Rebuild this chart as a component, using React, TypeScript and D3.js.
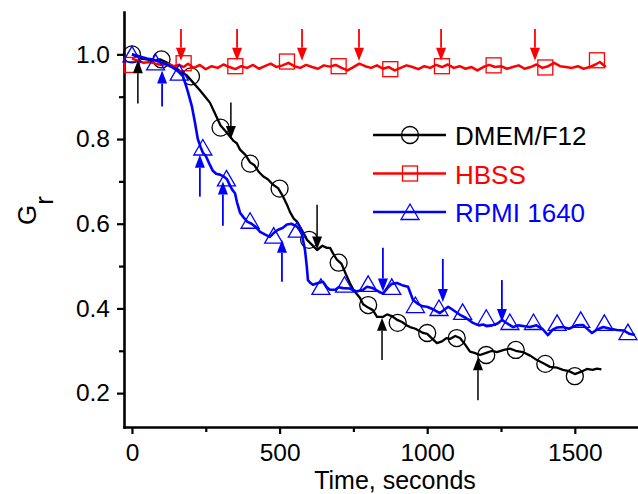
import React, { useEffect, useRef } from "react";
import * as d3 from "d3";

// ---- data (time in s, G_r) ----
const dmemLine: [number, number][] = [
  [0, 1.0], [15, 0.995], [30, 0.99], [50, 0.988], [70, 0.985], [95, 0.988],
  [115, 0.982], [139, 0.972], [160, 0.962], [186, 0.95], [205, 0.935], [230, 0.915],
  [250, 0.898], [264, 0.886], [280, 0.862], [300, 0.832], [315, 0.82], [332, 0.806],
  [345, 0.795], [355, 0.79], [366, 0.775], [385, 0.762], [400, 0.745], [415, 0.738],
  [430, 0.722], [444, 0.712], [460, 0.705], [478, 0.692], [495, 0.684], [512, 0.664],
  [525, 0.645], [535, 0.628], [548, 0.612], [559, 0.605], [575, 0.585], [593, 0.562],
  [610, 0.55], [627, 0.538], [645, 0.548], [660, 0.543], [671, 0.543], [685, 0.525],
  [694, 0.515], [710, 0.505], [725, 0.48], [738, 0.46], [750, 0.444], [760, 0.435],
  [772, 0.425], [783, 0.41], [800, 0.402], [816, 0.396], [830, 0.38], [850, 0.38],
  [864, 0.386], [880, 0.382], [898, 0.373], [915, 0.368], [930, 0.36], [942, 0.356],
  [960, 0.352], [986, 0.342], [1000, 0.34], [1015, 0.33], [1033, 0.318], [1050, 0.322],
  [1065, 0.33], [1077, 0.328], [1095, 0.335], [1111, 0.33], [1125, 0.318], [1145, 0.298],
  [1160, 0.295], [1179, 0.29], [1200, 0.295], [1220, 0.3], [1236, 0.297], [1260, 0.302],
  [1280, 0.305], [1300, 0.3], [1324, 0.297], [1350, 0.288], [1372, 0.278], [1395, 0.27],
  [1416, 0.262], [1440, 0.26], [1460, 0.255], [1480, 0.252], [1500, 0.245], [1520, 0.25],
  [1541, 0.257], [1560, 0.255], [1575, 0.258], [1590, 0.256],
];

const hbssLine: [number, number][] = [
  [0, 0.99], [20, 0.985], [40, 0.98], [60, 0.982], [80, 0.978], [100, 0.975],
  [120, 0.978], [140, 0.972], [160, 0.975], [175, 0.97], [190, 0.978], [210, 0.968],
  [230, 0.975], [250, 0.965], [270, 0.972], [290, 0.968], [310, 0.976], [330, 0.97],
  [350, 0.965], [370, 0.972], [390, 0.968], [410, 0.975], [430, 0.966], [450, 0.972],
  [470, 0.978], [490, 0.97], [510, 0.974], [530, 0.98], [550, 0.972], [570, 0.968],
  [590, 0.975], [610, 0.97], [630, 0.966], [650, 0.974], [670, 0.971], [690, 0.975],
  [710, 0.968], [730, 0.962], [750, 0.97], [770, 0.978], [790, 0.972], [810, 0.968],
  [830, 0.974], [850, 0.966], [870, 0.97], [890, 0.962], [910, 0.968], [930, 0.974],
  [950, 0.97], [970, 0.965], [990, 0.972], [1010, 0.968], [1030, 0.975], [1050, 0.97],
  [1070, 0.976], [1090, 0.968], [1110, 0.972], [1130, 0.966], [1150, 0.97], [1170, 0.962],
  [1190, 0.97], [1210, 0.975], [1230, 0.97], [1250, 0.972], [1270, 0.966], [1290, 0.97],
  [1310, 0.974], [1330, 0.966], [1350, 0.97], [1370, 0.976], [1390, 0.968], [1410, 0.972],
  [1430, 0.98], [1450, 0.972], [1470, 0.97], [1490, 0.968], [1510, 0.972], [1530, 0.966],
  [1550, 0.97], [1570, 0.976], [1585, 0.982], [1605, 0.97],
];

const rpmiLine: [number, number][] = [
  [0, 1.0], [27, 0.995], [50, 0.99], [71, 0.988], [95, 0.982], [118, 0.976],
  [140, 0.968], [156, 0.96], [173, 0.948], [188, 0.915], [203, 0.877], [213, 0.84],
  [223, 0.8], [232, 0.782], [240, 0.768], [250, 0.76], [262, 0.742], [274, 0.725],
  [285, 0.718], [298, 0.716], [310, 0.712], [322, 0.705], [332, 0.69], [340, 0.68],
  [349, 0.672], [356, 0.65], [366, 0.626], [378, 0.615], [390, 0.605], [405, 0.6],
  [420, 0.592], [434, 0.581], [450, 0.575], [467, 0.569], [480, 0.578], [495, 0.586],
  [510, 0.59], [525, 0.598], [540, 0.6], [559, 0.593], [568, 0.585], [576, 0.574],
  [586, 0.538], [592, 0.5], [596, 0.467], [605, 0.46], [613, 0.456], [630, 0.46],
  [647, 0.463], [660, 0.45], [671, 0.444], [688, 0.444], [700, 0.45], [715, 0.448],
  [738, 0.447], [760, 0.44], [783, 0.444], [796, 0.451], [815, 0.448], [835, 0.44],
  [850, 0.435], [865, 0.448], [880, 0.458], [897, 0.46], [915, 0.455], [935, 0.451],
  [952, 0.42], [970, 0.41], [985, 0.405], [999, 0.404], [1020, 0.398], [1043, 0.389],
  [1060, 0.398], [1071, 0.404], [1090, 0.395], [1111, 0.385], [1130, 0.378], [1155, 0.366],
  [1175, 0.36], [1190, 0.362], [1201, 0.358], [1220, 0.36], [1240, 0.365], [1253, 0.373],
  [1270, 0.365], [1291, 0.356], [1310, 0.36], [1330, 0.358], [1348, 0.356], [1370, 0.36],
  [1390, 0.352], [1409, 0.337], [1425, 0.35], [1440, 0.355], [1460, 0.356], [1480, 0.352],
  [1505, 0.36], [1528, 0.361], [1545, 0.35], [1558, 0.342], [1575, 0.35], [1596, 0.356],
  [1620, 0.352], [1643, 0.349], [1665, 0.348], [1685, 0.34], [1704, 0.337],
];

// symbol positions
const dmemMarkT = [0, 100, 200, 300, 400, 500, 600, 700, 800, 900, 1000, 1100, 1200, 1300, 1400, 1500];
const dmemMarkV = [1.0, 0.988, 0.948, 0.827, 0.742, 0.683, 0.562, 0.508, 0.408, 0.366, 0.342, 0.33, 0.29, 0.302, 0.269, 0.24];
const hbssMarkT = [0, 175, 350, 525, 700, 875, 1050, 1225, 1400, 1575];
const hbssMarkV = [0.975, 0.979, 0.972, 0.983, 0.972, 0.965, 0.972, 0.974, 0.969, 0.986];
const rpmiMarkT = [0, 80, 160, 240, 320, 400, 480, 560, 640, 720, 800, 880, 960, 1040, 1120, 1200, 1280, 1360, 1440, 1520, 1600, 1680];
const rpmiMarkV = [1.0, 0.981, 0.957, 0.78, 0.707, 0.607, 0.572, 0.586, 0.451, 0.456, 0.458, 0.451, 0.408, 0.401, 0.392, 0.378, 0.368, 0.368, 0.366, 0.373, 0.366, 0.344];

// arrows: time, tail value, tip value
const dmemArrows: [number, number, number][] = [
  [20, 0.884, 0.986], [335, 0.886, 0.8], [627, 0.645, 0.539], [847, 0.278, 0.378], [1172, 0.183, 0.285],
];
const hbssArrows: [number, number, number][] = [
  [166, 1.06, 0.985], [356, 1.06, 0.985], [576, 1.06, 0.985], [769, 1.06, 0.985], [1047, 1.06, 0.985], [1365, 1.06, 0.985],
];
const rpmiArrows: [number, number, number][] = [
  [102, 0.877, 0.962], [230, 0.664, 0.763], [308, 0.595, 0.7], [508, 0.463, 0.562],
  [850, 0.543, 0.44], [1053, 0.517, 0.415], [1253, 0.467, 0.368],
];

const seriesNames = ["DMEM/F12", "HBSS", "RPMI 1640"];
const xMajor = [0, 500, 1000, 1500];
const xMinor = [250, 750, 1250];
const yMajor = [0.2, 0.4, 0.6, 0.8, 1.0];
const yMinor = [0.3, 0.5, 0.7, 0.9];

const W = 638;
const H = 494;
const font = "'Liberation Sans', Arial, sans-serif";
const black = "#000000";
const red = "#ff0000";
const blue = "#0000ff";

const App: React.FC = () => {
  const svgRef = useRef<SVGSVGElement | null>(null);

  useEffect(() => {
    if (!svgRef.current) return;
    const svg = d3.select(svgRef.current);
    svg.selectAll("*").remove();

    const x = d3.scaleLinear().domain([-27, 1714]).range([124, 638]);
    const y = d3.scaleLinear().domain([0.12, 1.1]).range([427, 12]);

    // axes
    const xAxis = svg.append("g").attr("transform", `translate(0,${y(0.12)})`);
    xAxis.call(
      d3.axisBottom(x).tickValues(xMajor).tickSizeInner(7).tickSizeOuter(0).tickPadding(10).tickFormat(d3.format("d"))
    );
    xAxis.append("g").call(d3.axisBottom(x).tickValues(xMinor).tickSize(5).tickFormat(() => ""))
      .select(".domain").remove();

    const yAxis = svg.append("g").attr("transform", `translate(${x(-27)},0)`);
    yAxis.call(
      d3.axisLeft(y).tickValues(yMajor).tickSizeInner(7).tickSizeOuter(0).tickPadding(7).tickFormat(d3.format(".1f"))
    );
    yAxis.append("g").call(d3.axisLeft(y).tickValues(yMinor).tickSize(5).tickFormat(() => ""))
      .select(".domain").remove();

    svg.selectAll(".domain").attr("stroke", black).attr("stroke-width", 2.6).attr("stroke-linecap", "square");
    svg.selectAll(".tick line").attr("stroke", black).attr("stroke-width", 2.2);
    svg.selectAll(".tick text")
      .attr("fill", black)
      .style("font-family", font)
      .style("font-size", "24.5px");

    // axis titles
    svg.append("text")
      .attr("x", 395)
      .attr("y", 489)
      .attr("text-anchor", "middle")
      .style("font-family", font)
      .style("font-size", "25px")
      .text("Time, seconds");

    const yTitle = svg.append("text")
      .attr("transform", "translate(36,225) rotate(-90)")
      .style("font-family", font)
      .style("font-size", "26px");
    yTitle.append("tspan").text("G");
    yTitle.append("tspan").attr("dy", 17).text("r");

    const line = d3.line<[number, number]>().x((d) => x(d[0])).y((d) => y(d[1]));

    const circle = (g: d3.Selection<SVGGElement, unknown, null, undefined>, cx: number, cy: number, c: string) =>
      g.append("circle").attr("cx", cx).attr("cy", cy).attr("r", 8.5)
        .attr("fill", "none").attr("stroke", c).attr("stroke-width", 1.3);
    const square = (g: d3.Selection<SVGGElement, unknown, null, undefined>, cx: number, cy: number, c: string) =>
      g.append("rect").attr("x", cx - 7.5).attr("y", cy - 7.5).attr("width", 15).attr("height", 15)
        .attr("fill", "none").attr("stroke", c).attr("stroke-width", 1.3);
    const triangle = (g: d3.Selection<SVGGElement, unknown, null, undefined>, cx: number, cy: number, c: string) =>
      g.append("path")
        .attr("d", `M${cx},${cy - 8}L${cx + 9},${cy + 7.5}L${cx - 9},${cy + 7.5}Z`)
        .attr("fill", "none").attr("stroke", c).attr("stroke-width", 1.3);

    const drawArrows = (arr: [number, number, number][], c: string, w: number) => {
      const g = svg.append("g");
      arr.forEach(([t, from, to]) => {
        const px = x(t);
        const y0 = y(from);
        const y1 = y(to);
        const dir = y1 > y0 ? 1 : -1;
        const head = 13;
        g.append("line")
          .attr("x1", px).attr("x2", px)
          .attr("y1", y0).attr("y2", y1 - dir * head)
          .attr("stroke", c).attr("stroke-width", w);
        g.append("path")
          .attr("d", `M${px},${y1}L${px - 5},${y1 - dir * head}L${px + 5},${y1 - dir * head}Z`)
          .attr("fill", c);
      });
    };

    // DMEM/F12
    svg.append("path").datum(dmemLine).attr("d", line)
      .attr("fill", "none").attr("stroke", black).attr("stroke-width", 2.3).attr("stroke-linejoin", "round");
    const gD = svg.append("g");
    dmemMarkT.forEach((t, i) => circle(gD, x(t), y(dmemMarkV[i]), black));

    // HBSS
    svg.append("path").datum(hbssLine).attr("d", line)
      .attr("fill", "none").attr("stroke", red).attr("stroke-width", 2.5).attr("stroke-linejoin", "round");
    const gH = svg.append("g");
    hbssMarkT.forEach((t, i) => square(gH, x(t), y(hbssMarkV[i]), red));

    // RPMI 1640
    svg.append("path").datum(rpmiLine).attr("d", line)
      .attr("fill", "none").attr("stroke", blue).attr("stroke-width", 2.6).attr("stroke-linejoin", "round");
    const gR = svg.append("g");
    rpmiMarkT.forEach((t, i) => triangle(gR, x(t), y(rpmiMarkV[i]), blue));

    drawArrows(dmemArrows, black, 1.5);
    drawArrows(hbssArrows, red, 1.8);
    drawArrows(rpmiArrows, blue, 1.8);

    // legend
    const colors = [black, red, blue];
    const legend = svg.append("g").attr("transform", "translate(373,135)");
    seriesNames.forEach((name, i) => {
      const row = legend.append("g").attr("transform", `translate(0,${i * 38.5})`);
      row.append("line").attr("x1", 0).attr("x2", 73).attr("y1", 0).attr("y2", 0)
        .attr("stroke", colors[i]).attr("stroke-width", 2.5);
      if (i === 0) circle(row, 37, 0, colors[i]);
      if (i === 1) square(row, 37, 0, colors[i]);
      if (i === 2) triangle(row, 37, 0, colors[i]);
      row.append("text").attr("x", 82).attr("y", 10)
        .attr("fill", colors[i])
        .style("font-family", font)
        .style("font-size", "26px")
        .text(name);
    });
  }, []);

  return (
    <svg
      ref={svgRef}
      width={W}
      height={H}
      style={{ position: "absolute", left: 0, top: 0, background: "#ffffff" }}
    ></svg>
  );
};

export default App;
